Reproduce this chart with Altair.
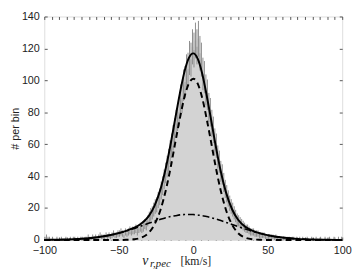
import altair as alt
import pandas as pd
import numpy as np

# histogram: left bin edges -100..99 (1 km/s bins) and counts
bin_left = list(range(-100, 100))
counts = [
    1, 2, 1, 1, 0, 1, 0, 0, 1, 0,
    0, 1, 0, 0, 1, 0, 0, 1, 0, 1,
    1, 0, 1, 0, 1, 1, 0, 1, 1, 2,
    1, 1, 2, 1, 2, 1, 2, 3, 2, 2,
    2, 3, 2, 3, 2, 3, 4, 3, 3, 4,
    4, 5, 4, 3, 5, 4, 5, 6, 5, 6,
    6, 7, 5, 7, 8, 7, 8, 10, 9, 12,
    14, 16, 17, 19, 21, 22, 25, 27, 31, 34,
    38, 42, 46, 50, 55, 59, 64, 68, 73, 77,
    80, 88, 89, 97, 99, 106, 107, 114, 113, 121,
    119, 125, 121, 126, 117, 113, 104, 102, 94, 91,
    83, 80, 73, 69, 62, 59, 52, 49, 43, 41,
    36, 32, 29, 26, 23, 21, 19, 17, 15, 13,
    12, 11, 10, 9, 8, 7, 7, 6, 5, 5,
    5, 4, 4, 4, 3, 3, 3, 3, 2, 2,
    2, 2, 2, 2, 1, 2, 1, 1, 1, 1,
    1, 1, 0, 1, 1, 0, 1, 1, 0, 1,
    0, 1, 0, 1, 0, 0, 1, 0, 0, 1,
    0, 0, 1, 0, 0, 1, 0, 0, 1, 0,
    0, 1, 0, 0, 1, 0, 0, 1, 0, 1,
]

# fitted model curves
curve_x = [-100, -90, -80, -70, -60, -50, -45, -40, -35, -30, -26, -22, -18, -15, -12, -9, -6, -3, 0,
           3, 6, 9, 12, 15, 18, 22, 26, 30, 35, 40, 45, 50, 60, 70, 80, 90, 100]
narrow = [0, 0, 0, 0, 0, 0, 0.1, 0.4, 1.4, 4.4, 9.7, 18.8, 32.8, 46.2, 61.3, 76.0, 89.1, 97.9, 101,
          97.9, 89.1, 76.0, 61.3, 46.2, 32.8, 18.8, 9.7, 4.4, 1.4, 0.4, 0.1, 0, 0, 0, 0, 0, 0]
broad = [0.06, 0.18, 0.47, 1.11, 2.32, 4.30, 5.60, 7.09, 8.70, 10.4, 11.7, 12.9, 14.0, 14.7, 15.2, 15.7, 15.9, 16.0, 15.9,
         15.7, 15.2, 14.7, 14.0, 13.2, 12.3, 11.0, 9.7, 8.4, 6.8, 5.3, 4.0, 3.0, 1.5, 0.67, 0.27, 0.09, 0.03]
total = [0.06, 0.18, 0.47, 1.11, 2.32, 4.30, 5.7, 7.5, 10.1, 14.8, 21.4, 31.7, 46.8, 60.9, 76.5, 91.7, 105.0, 113.9, 116.9,
         113.6, 104.3, 90.7, 75.3, 59.4, 45.1, 29.8, 19.4, 12.8, 8.2, 5.7, 4.1, 3.0, 1.5, 0.67, 0.27, 0.09, 0.03]

x_ticks = list(range(-100, 101, 5))
y_ticks = list(range(0, 141, 20))

hist = pd.DataFrame({"x0": bin_left + [100], "n": counts + [counts[-1]]})
err = pd.DataFrame({"xm": [b + 0.5 for b in bin_left], "n": counts})
err = err[err.n > 0].copy()
err["lo"] = err.n - np.sqrt(err.n)
err["hi"] = err.n + np.sqrt(err.n)

curves = pd.DataFrame({"x": curve_x, "narrow": narrow, "broad": broad, "total": total})

xs = alt.Scale(domain=[-100, 100], nice=False, zero=False)
ys = alt.Scale(domain=[0, 140], nice=False, zero=False)

FONT = "Liberation Sans"
W = 304
H = 228

ax_bottom = alt.Axis(orient="bottom", values=x_ticks, labelExpr="datum.value % 50 == 0 ? datum.label : ''",
                     tickSize=3, offset=-3, domain=False, grid=False, labelPadding=5, title=None,
                     labelFlush=False, labelOverlap=False, labelFont=FONT, labelFontSize=11,
                     labelColor="#222", tickColor="#555")
ax_left = alt.Axis(orient="left", values=y_ticks, tickSize=3, offset=-3, domain=False, grid=False,
                   labelPadding=5, title="# per bin", titleFont=FONT, titleFontSize=11,
                   titleFontWeight="normal", titleColor="#222", titlePadding=1,
                   labelFlush=False, labelOverlap=False, labelFont=FONT, labelFontSize=11,
                   labelColor="#222", tickColor="#555")
ax_top = alt.Axis(orient="top", values=x_ticks, tickSize=3, offset=-3, domain=False, grid=False,
                  labels=False, title=None, tickColor="#555")
ax_right = alt.Axis(orient="right", values=y_ticks, tickSize=3, offset=-3, domain=False, grid=False,
                    labels=False, title=None, tickColor="#555")

bars = alt.Chart(hist).mark_area(interpolate="step-after", color="#d3d3d3", opacity=1).encode(
    x=alt.X("x0:Q", scale=xs, axis=ax_bottom),
    y=alt.Y("n:Q", scale=ys, axis=ax_left),
)

errs = alt.Chart(err).mark_rule(color="#8c8c8c", strokeWidth=1).encode(
    x=alt.X("xm:Q", scale=xs, axis=ax_top),
    y=alt.Y("lo:Q", scale=ys, axis=ax_right),
    y2="hi:Q",
)

def curve(col, dash, width):
    kw = dict(color="black", strokeWidth=width, interpolate="monotone")
    if dash:
        kw["strokeDash"] = dash
    return alt.Chart(curves).mark_line(**kw).encode(
        x=alt.X("x:Q", scale=xs, axis=None),
        y=alt.Y(f"{col}:Q", scale=ys, axis=None),
    )

l_broad = curve("broad", [7, 3, 2, 3], 1.6)
l_narrow = curve("narrow", [6, 4], 2)
l_total = curve("total", None, 2)

title_df = pd.DataFrame({"t": ["v"]})
t_v = alt.Chart(title_df).mark_text(text="v", font="Liberation Serif", fontStyle="italic", fontSize=14,
                                    align="left", baseline="alphabetic", color="#222").encode(
    x=alt.value(100), y=alt.value(H + 26))
t_sub = alt.Chart(title_df).mark_text(text="r,pec", font="Liberation Serif", fontStyle="italic", fontSize=11,
                                      align="left", baseline="alphabetic", color="#222").encode(
    x=alt.value(108), y=alt.value(H + 28))
t_unit = alt.Chart(title_df).mark_text(text="[km/s]", font="Liberation Serif", fontSize=12,
                                       align="left", baseline="alphabetic", color="#222").encode(
    x=alt.value(139), y=alt.value(H + 26))

chart = alt.layer(bars, errs, l_broad, l_narrow, l_total, t_v, t_sub, t_unit).resolve_axis(
    x="independent", y="independent"
).properties(
    width=W, height=H, autosize=alt.AutoSizeParams(type="none"),
    padding={"left": 37, "top": 6, "right": 10, "bottom": 29},
).configure_view(stroke="#444", strokeWidth=1).configure(background="white")

chart.save("out.html", embed_options={"renderer": "svg", "actions": False})
